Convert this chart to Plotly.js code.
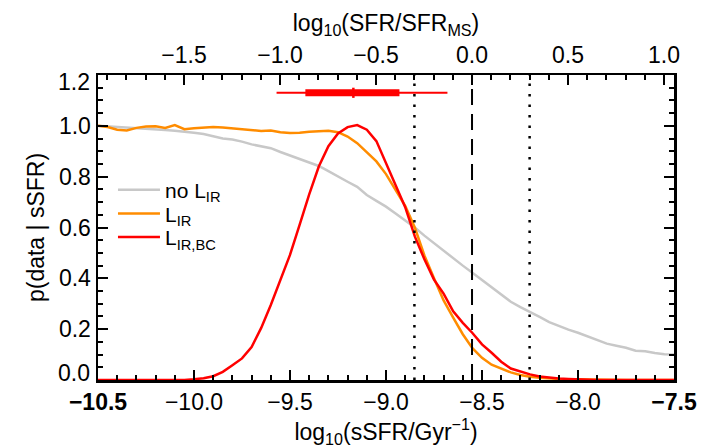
<!DOCTYPE html>
<html>
<head>
<meta charset="utf-8">
<script src="https://cdn.plot.ly/plotly-3.0.1.min.js"></script>
<style>html,body{margin:0;padding:0;background:#fff;}#chart{width:717px;height:448px;}</style>
</head>
<body>
<div id="chart"></div>
<script>
// log10(sSFR/Gyr^-1) grid
const sSFR = [-10.50,-10.45,-10.40,-10.35,-10.30,-10.25,-10.20,-10.15,-10.10,-10.05,
  -10.00,-9.95,-9.90,-9.85,-9.80,-9.75,-9.70,-9.65,-9.60,-9.55,
  -9.50,-9.45,-9.40,-9.35,-9.30,-9.25,-9.20,-9.15,-9.10,-9.05,
  -9.00,-8.95,-8.90,-8.85,-8.80,-8.75,-8.70,-8.65,-8.60,-8.55,
  -8.50,-8.45,-8.40,-8.35,-8.30,-8.25,-8.20,-8.15,-8.10,-8.05,
  -8.00,-7.95,-7.90,-7.85,-7.80,-7.75,-7.70,-7.65,-7.60,-7.55,-7.50];

// p(data | sSFR) without L_IR
const pNoLIR = [1.000,0.998,0.995,0.993,0.990,0.990,0.986,0.984,0.981,0.978,
  0.973,0.968,0.958,0.950,0.946,0.938,0.927,0.918,0.912,0.897,
  0.884,0.870,0.857,0.842,0.822,0.800,0.780,0.760,0.728,0.705,
  0.682,0.655,0.628,0.600,0.568,0.538,0.510,0.480,0.450,0.422,
  0.393,0.365,0.337,0.308,0.287,0.269,0.248,0.228,0.212,0.198,
  0.186,0.172,0.156,0.143,0.135,0.127,0.115,0.113,0.106,0.101,0.100];

// p(data | sSFR) with L_IR
const pLIR = [1.000,0.995,0.985,0.982,0.992,0.997,0.998,0.992,1.003,0.987,
  0.990,0.993,0.995,0.993,0.990,0.988,0.985,0.980,0.982,0.975,
  0.972,0.973,0.977,0.980,0.981,0.975,0.958,0.932,0.897,0.860,
  0.810,0.748,0.685,0.600,0.490,0.400,0.313,0.245,0.180,0.125,
  0.087,0.060,0.044,0.030,0.020,0.013,0.009,0.006,0.004,0.003,
  0.002,0.001,0.001,0.000,0.000,0.000,0.000,0.000,0.000,0.000,0.000];

// p(data | sSFR) with L_IR,BC
const pLIRBC = [0.000,0.000,0.000,0.000,0.000,0.000,0.000,0.000,0.000,0.000,
  0.003,0.007,0.015,0.032,0.058,0.085,0.130,0.205,0.295,0.390,
  0.492,0.610,0.730,0.840,0.920,0.970,0.995,1.003,0.985,0.940,
  0.855,0.765,0.680,0.565,0.475,0.395,0.340,0.270,0.225,0.185,
  0.140,0.107,0.072,0.045,0.032,0.022,0.014,0.009,0.006,0.004,
  0.002,0.001,0.000,0.000,0.000,0.000,0.000,0.000,0.000,0.000,0.000];

const seriesNames = ['no L<sub>IR</sub>', 'L<sub>IR</sub>', 'L<sub>IR,BC</sub>'];

// main sequence offsets, log10(SFR/SFR_MS)
const msLine = [0.0];
const msScatter = [-0.3, 0.3];
const msRange = [-1.948, 1.052];

// error bar at top
const errY = 1.13;
const errOuter = [-9.57, -8.68];
const errInner = [-9.42, -8.93];
const errCenter = -9.17;
const errTick = [1.11, 1.15];

const bottomTicks = [-10.5, -10.0, -9.5, -9.0, -8.5, -8.0, -7.5];
const bottomTickText = ['<b>−10.5</b>', '−10.0', '−9.5', '−9.0', '−8.5', '−8.0', '<b>−7.5</b>'];
const topTicks = [-1.5, -1.0, -0.5, 0.0, 0.5, 1.0];
const topTickText = ['−1.5', '−1.0', '−0.5', '0.0', '0.5', '1.0'];
const yTicks = [0.2, 0.4, 0.6, 0.8, 1.0];
const yTickText = ['0.2', '0.4', '0.6', '0.8', '1.0'];
const yEndTicks = [0.0, 1.2];
const yEndText = ['0.0', '1.2'];

const traces = [];
const colors = ['#c8c8c8', '#ff8c00', '#ff0000'];
const ys = [pNoLIR, pLIR, pLIRBC];
const legendIds = ['legend', 'legend2', 'legend3'];
for (let i = 0; i < 3; i++) {
  traces.push({x: sSFR, y: ys[i], type: 'scatter', mode: 'lines', name: seriesNames[i],
    legend: legendIds[i],
    line: {color: colors[i], width: 2.5}, xaxis: 'x', yaxis: 'y'});
}
// vertical reference lines
for (const v of msLine) {
  traces.push({x: [v, v], y: [0, 1.2], type: 'scatter', mode: 'lines', xaxis: 'x2', yaxis: 'y',
    showlegend: false, hoverinfo: 'skip', line: {color: 'black', width: 2, dash: '16px,9px'}});
}
for (const v of msScatter) {
  traces.push({x: [v, v], y: [0, 1.2], type: 'scatter', mode: 'lines', xaxis: 'x2', yaxis: 'y',
    showlegend: false, hoverinfo: 'skip', line: {color: 'black', width: 2.5, dash: '2.5px,8px'}});
}
// error bar
traces.push({x: errOuter, y: [errY, errY], type: 'scatter', mode: 'lines', showlegend: false,
  line: {color: '#ff0000', width: 2}, xaxis: 'x', yaxis: 'y'});
traces.push({x: errInner, y: [errY, errY], type: 'scatter', mode: 'lines', showlegend: false,
  line: {color: '#ff0000', width: 7}, xaxis: 'x', yaxis: 'y'});
traces.push({x: [errCenter, errCenter], y: errTick, type: 'scatter', mode: 'lines', showlegend: false,
  line: {color: '#ff0000', width: 2.5}, xaxis: 'x', yaxis: 'y'});

const font = {family: 'Liberation Sans, Arial, sans-serif', size: 23, color: 'black'};
const axCommon = {
  showgrid: false, zeroline: false, showline: true, linecolor: 'black', linewidth: 2.5,
  ticks: 'inside', ticklen: 10, tickwidth: 2, tickcolor: 'black', tickfont: font
};
const legFont = {family: font.family, size: 21, color: 'black'};
const legTops = [0.69, 0.612, 0.535];
const legCommon = {x: 0.026, xanchor: 'left', yanchor: 'top', bgcolor: 'rgba(0,0,0,0)',
  font: legFont, itemwidth: 42, borderwidth: 0};

const annotations = yEndTicks.map((v, i) => ({
  x: 0, xref: 'paper', y: v, yref: 'y', text: yEndText[i], showarrow: false,
  xanchor: 'right', yanchor: 'middle', xshift: -6, yshift: i === 0 ? 7 : -7, font: font
}));

const layout = {
  width: 717, height: 448,
  margin: {l: 98, r: 43, t: 75, b: 68, pad: 0},
  paper_bgcolor: 'white', plot_bgcolor: 'white',
  font: font,
  showlegend: true,
  legend: Object.assign({}, legCommon, {y: legTops[0]}),
  legend2: Object.assign({}, legCommon, {y: legTops[1]}),
  legend3: Object.assign({}, legCommon, {y: legTops[2]}),
  annotations: annotations,
  xaxis: Object.assign({}, axCommon, {
    range: [-10.5, -7.5], tickmode: 'array', tickvals: bottomTicks, ticktext: bottomTickText,
    minor: {dtick: 0.1, tick0: -10.5, ticks: 'inside', ticklen: 5, tickwidth: 2, tickcolor: 'black'},
    title: {text: 'log<sub>10</sub>(sSFR/Gyr<sup>−1</sup>)', font: font, standoff: 4}
  }),
  xaxis2: Object.assign({}, axCommon, {
    range: msRange, overlaying: 'x', side: 'top', anchor: 'y',
    tickmode: 'array', tickvals: topTicks, ticktext: topTickText,
    minor: {dtick: 0.1, tick0: 0, ticks: 'inside', ticklen: 5, tickwidth: 2, tickcolor: 'black'},
    title: {text: 'log<sub>10</sub>(SFR/SFR<sub>MS</sub>)', font: font, standoff: 4}
  }),
  yaxis: Object.assign({}, axCommon, {
    range: [0, 1.2], tickmode: 'array', tickvals: yTicks, ticktext: yTickText, mirror: 'ticks',
    minor: {dtick: 0.05, tick0: 0, ticks: 'inside', ticklen: 5, tickwidth: 2, tickcolor: 'black'},
    title: {text: 'p(data | sSFR)', font: font, standoff: 8}
  })
};

Plotly.newPlot('chart', traces, layout, {displayModeBar: false, staticPlot: true});
</script>
</body>
</html>
